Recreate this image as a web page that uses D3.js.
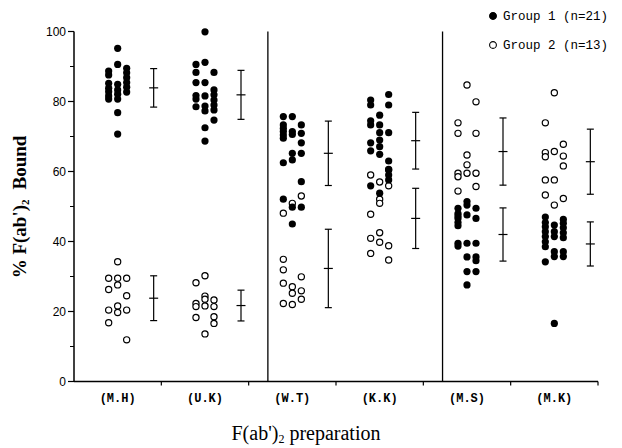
<!DOCTYPE html>
<html>
<head>
<meta charset="utf-8">
<script src="https://cdn.jsdelivr.net/npm/d3@7/dist/d3.min.js"></script>
<style>
  html, body { margin: 0; padding: 0; background: #fff; }
  svg { display: block; }
</style>
</head>
<body>
<svg id="chart" width="622" height="448"></svg>
<script>
// Preparations on the x axis
const categories = ["(M.H)", "(U.K)", "(W.T)", "(K.K)", "(M.S)", "(M.K)"];

// Individual % bound values, one array per dot column (left, middle, right)
const group1Values = [
  [[88.7, 87.6, 85.2, 83.8, 82.8, 81.6, 80.7], [95.2, 90.6, 84.9, 83.3, 82.1, 80.7, 76.8, 70.7], [89.5, 88.2, 86.8, 85.4, 84.1, 82.7]],
  [[90.6, 88.3, 85.4, 81.7, 80.7, 78.5], [99.9, 91.2, 85.4, 81.6, 78.7, 77.3, 72.5, 68.7], [88.3, 83.3, 81.9, 80.4, 79.0, 77.6, 74.7]],
  [[75.7, 73.3, 72.3, 71.4, 70.4, 69.5, 62.5, 52.1], [75.7, 71.4, 70.6, 65.2, 63.3, 49.8, 45.0], [73.3, 70.9, 68.2, 65.2, 57.1, 49.8]],
  [[80.4, 79.0, 74.5, 73.3, 68.2, 65.9, 55.9], [76.1, 73.3, 71.1, 69.0, 67.1, 64.9, 53.8], [82.0, 79.0, 71.1, 63.0, 60.4, 59.0, 57.6]],
  [[49.5, 48.0, 47.3, 46.6, 45.4, 44.5, 39.5, 38.7], [51.4, 50.4, 47.6, 39.5, 35.6, 31.4, 27.6], [49.5, 46.6, 39.5, 35.6, 34.5, 31.4]],
  [[47.0, 45.4, 44.2, 42.8, 41.4, 39.9, 38.5, 34.2], [44.7, 42.8, 41.4, 37.1, 35.7, 16.6], [46.3, 45.2, 43.9, 42.5, 41.1, 37.1, 35.7]]
];
const group2Values = [
  [[29.5, 26.3, 20.4, 16.8], [34.2, 29.5, 27.6, 21.6, 19.7], [29.5, 24.5, 20.4, 11.9]],
  [[28.2, 22.3, 21.4, 18.3], [30.2, 24.4, 23.5, 21.6, 13.6], [23.3, 21.4, 18.5, 16.6]],
  [[48.1, 34.9, 31.9, 28.1, 22.3], [50.9, 27.1, 25.2, 22.0], [53.0, 29.9, 25.9, 23.5]],
  [[59.0, 47.8, 40.9, 36.6], [57.0, 52.1, 50.9, 42.5, 39.8], [60.6, 55.9, 38.8, 34.7]],
  [[73.9, 70.9, 59.5, 58.5, 54.4], [84.7, 64.7, 61.9, 59.5], [79.9, 70.9, 59.5, 55.7]],
  [[73.9, 65.4, 64.2, 57.6, 53.3], [82.5, 65.7, 57.6, 50.4], [67.8, 64.4, 61.6, 52.3]]
];

// Mean and SD per preparation
const group1Mean = [83.9, 81.9, 65.2, 68.8, 42.0, 39.3];
const group1SD   = [5.5, 7.0, 9.2, 8.1, 7.6, 6.3];
const group2Mean = [23.8, 21.7, 32.3, 46.6, 65.7, 62.8];
const group2SD   = [6.4, 4.4, 11.2, 8.6, 9.6, 9.3];

// Preparations preceded by a separator line
const separatedBefore = ["(W.T)", "(M.S)"];

const yTicks = [0, 20, 40, 60, 80, 100];
const yMinorTicks = [10, 30, 50, 70, 90];
const legendLabels = ["Group 1 (n=21)", "Group 2 (n=13)"];

const svg = d3.select("#chart");
const margin = { left: 74, right: 24, top: 31.5, bottom: 66.5 };
const W = 622, H = 448;

const x = d3.scaleBand().domain(categories).range([margin.left, W - margin.right]).padding(0);
const y = d3.scaleLinear().domain([0, 100]).range([H - margin.bottom, margin.top]);
const bw = x.bandwidth();
const colStep = 9;
const barOffset = 36;
const cx = (cat) => x(cat) + bw / 2;

// Separator lines
svg.append("g").selectAll("line").data(separatedBefore).join("line")
  .attr("x1", d => x(d) + bw * 0.22).attr("x2", d => x(d) + bw * 0.22)
  .attr("y1", y(100)).attr("y2", y(0))
  .attr("stroke", "#000").attr("stroke-width", 1.3);

// Y axis
const yAxis = svg.append("g").attr("transform", `translate(${margin.left},0)`);
yAxis.append("line").attr("x1", 0).attr("x2", 0).attr("y1", y(100)).attr("y2", y(0))
  .attr("stroke", "#000").attr("stroke-width", 1.5);
yAxis.selectAll(".maj").data(yTicks).join("line").attr("class", "maj")
  .attr("x1", -6).attr("x2", 0).attr("y1", d => y(d)).attr("y2", d => y(d))
  .attr("stroke", "#000").attr("stroke-width", 1.2);
yAxis.selectAll(".min").data(yMinorTicks).join("line").attr("class", "min")
  .attr("x1", -4).attr("x2", 0).attr("y1", d => y(d)).attr("y2", d => y(d))
  .attr("stroke", "#000").attr("stroke-width", 1);
yAxis.selectAll("text").data(yTicks).join("text")
  .attr("x", -8).attr("y", d => y(d)).attr("dy", "0.35em")
  .attr("text-anchor", "end")
  .attr("font-family", "Liberation Sans, Arial, sans-serif").attr("font-size", 12)
  .text(d => d);

// X axis
const xAxis = svg.append("g").attr("transform", `translate(0,${y(0)})`);
xAxis.append("line").attr("x1", margin.left).attr("x2", W - margin.right).attr("y1", 0).attr("y2", 0)
  .attr("stroke", "#000").attr("stroke-width", 1.5);
xAxis.selectAll(".tk").data(categories).join("line").attr("class", "tk")
  .attr("x1", d => x(d) + bw).attr("x2", d => x(d) + bw).attr("y1", 0).attr("y2", 4)
  .attr("stroke", "#000").attr("stroke-width", 1.2);
xAxis.selectAll("text").data(categories).join("text")
  .attr("x", d => cx(d)).attr("y", 16).attr("dy", "0.35em")
  .attr("text-anchor", "middle")
  .attr("font-family", "Liberation Mono, Courier New, monospace").attr("font-size", 12)
  .attr("font-weight", "bold")
  .text(d => d);

// Dots
function flatten(values) {
  const out = [];
  values.forEach((cols, i) => cols.forEach((col, c) => col.forEach(v => out.push({ cat: categories[i], col: c, v }))));
  return out;
}
const r = 3.6;
svg.append("g").selectAll("circle").data(flatten(group2Values)).join("circle")
  .attr("cx", d => cx(d.cat) + (d.col - 1) * colStep).attr("cy", d => y(d.v)).attr("r", r - 0.5)
  .attr("fill", "#fff").attr("stroke", "#000").attr("stroke-width", 1.2);
svg.append("g").selectAll("circle").data(flatten(group1Values)).join("circle")
  .attr("cx", d => cx(d.cat) + (d.col - 1) * colStep).attr("cy", d => y(d.v)).attr("r", r)
  .attr("fill", "#000");

// Mean ± SD bars
function errorBars(means, sds) {
  const g = svg.append("g").attr("stroke", "#000").attr("stroke-width", 1.2);
  const data = categories.map((c, i) => ({ cat: c, m: means[i], s: sds[i] }));
  const bx = d => cx(d.cat) + barOffset;
  g.selectAll(".v").data(data).join("line").attr("class", "v")
    .attr("x1", bx).attr("x2", bx).attr("y1", d => y(d.m + d.s)).attr("y2", d => y(d.m - d.s));
  g.selectAll(".t").data(data).join("line").attr("class", "t")
    .attr("x1", d => bx(d) - 3.5).attr("x2", d => bx(d) + 3.5).attr("y1", d => y(d.m + d.s)).attr("y2", d => y(d.m + d.s));
  g.selectAll(".b").data(data).join("line").attr("class", "b")
    .attr("x1", d => bx(d) - 3.5).attr("x2", d => bx(d) + 3.5).attr("y1", d => y(d.m - d.s)).attr("y2", d => y(d.m - d.s));
  g.selectAll(".m").data(data).join("line").attr("class", "m")
    .attr("x1", d => bx(d) - 4.5).attr("x2", d => bx(d) + 4.5).attr("y1", d => y(d.m)).attr("y2", d => y(d.m));
}
errorBars(group1Mean, group1SD);
errorBars(group2Mean, group2SD);

// Legend
const legend = svg.append("g").attr("transform", "translate(493,16)");
legendLabels.forEach((lab, i) => {
  const row = legend.append("g").attr("transform", `translate(0,${i * 29})`);
  row.append("circle").attr("r", 3.4)
    .attr("fill", i === 0 ? "#000" : "#fff").attr("stroke", "#000").attr("stroke-width", 1.1);
  row.append("text").attr("x", 10).attr("dy", "0.35em")
    .attr("font-family", "Liberation Mono, Courier New, monospace").attr("font-size", 12.5)
    .text(lab);
});

// Axis titles
const xt = svg.append("text").attr("x", 306).attr("y", 440)
  .attr("text-anchor", "middle")
  .attr("font-family", "Liberation Serif, Times New Roman, serif").attr("font-size", 20);
xt.append("tspan").text("F(ab')");
xt.append("tspan").attr("font-size", 12).attr("dy", 3).text("2");
xt.append("tspan").attr("dy", -3).text(" preparation");

const yt = svg.append("text").attr("transform", "translate(26,207) rotate(-90)")
  .attr("text-anchor", "middle")
  .attr("font-family", "Liberation Serif, Times New Roman, serif").attr("font-size", 19)
  .attr("font-weight", "bold");
yt.append("tspan").text("% F(ab')");
yt.append("tspan").attr("font-size", 11).attr("dy", 3).text("2");
yt.append("tspan").attr("dy", -3).attr("dx", 10).text("Bound");
</script>
</body>
</html>
